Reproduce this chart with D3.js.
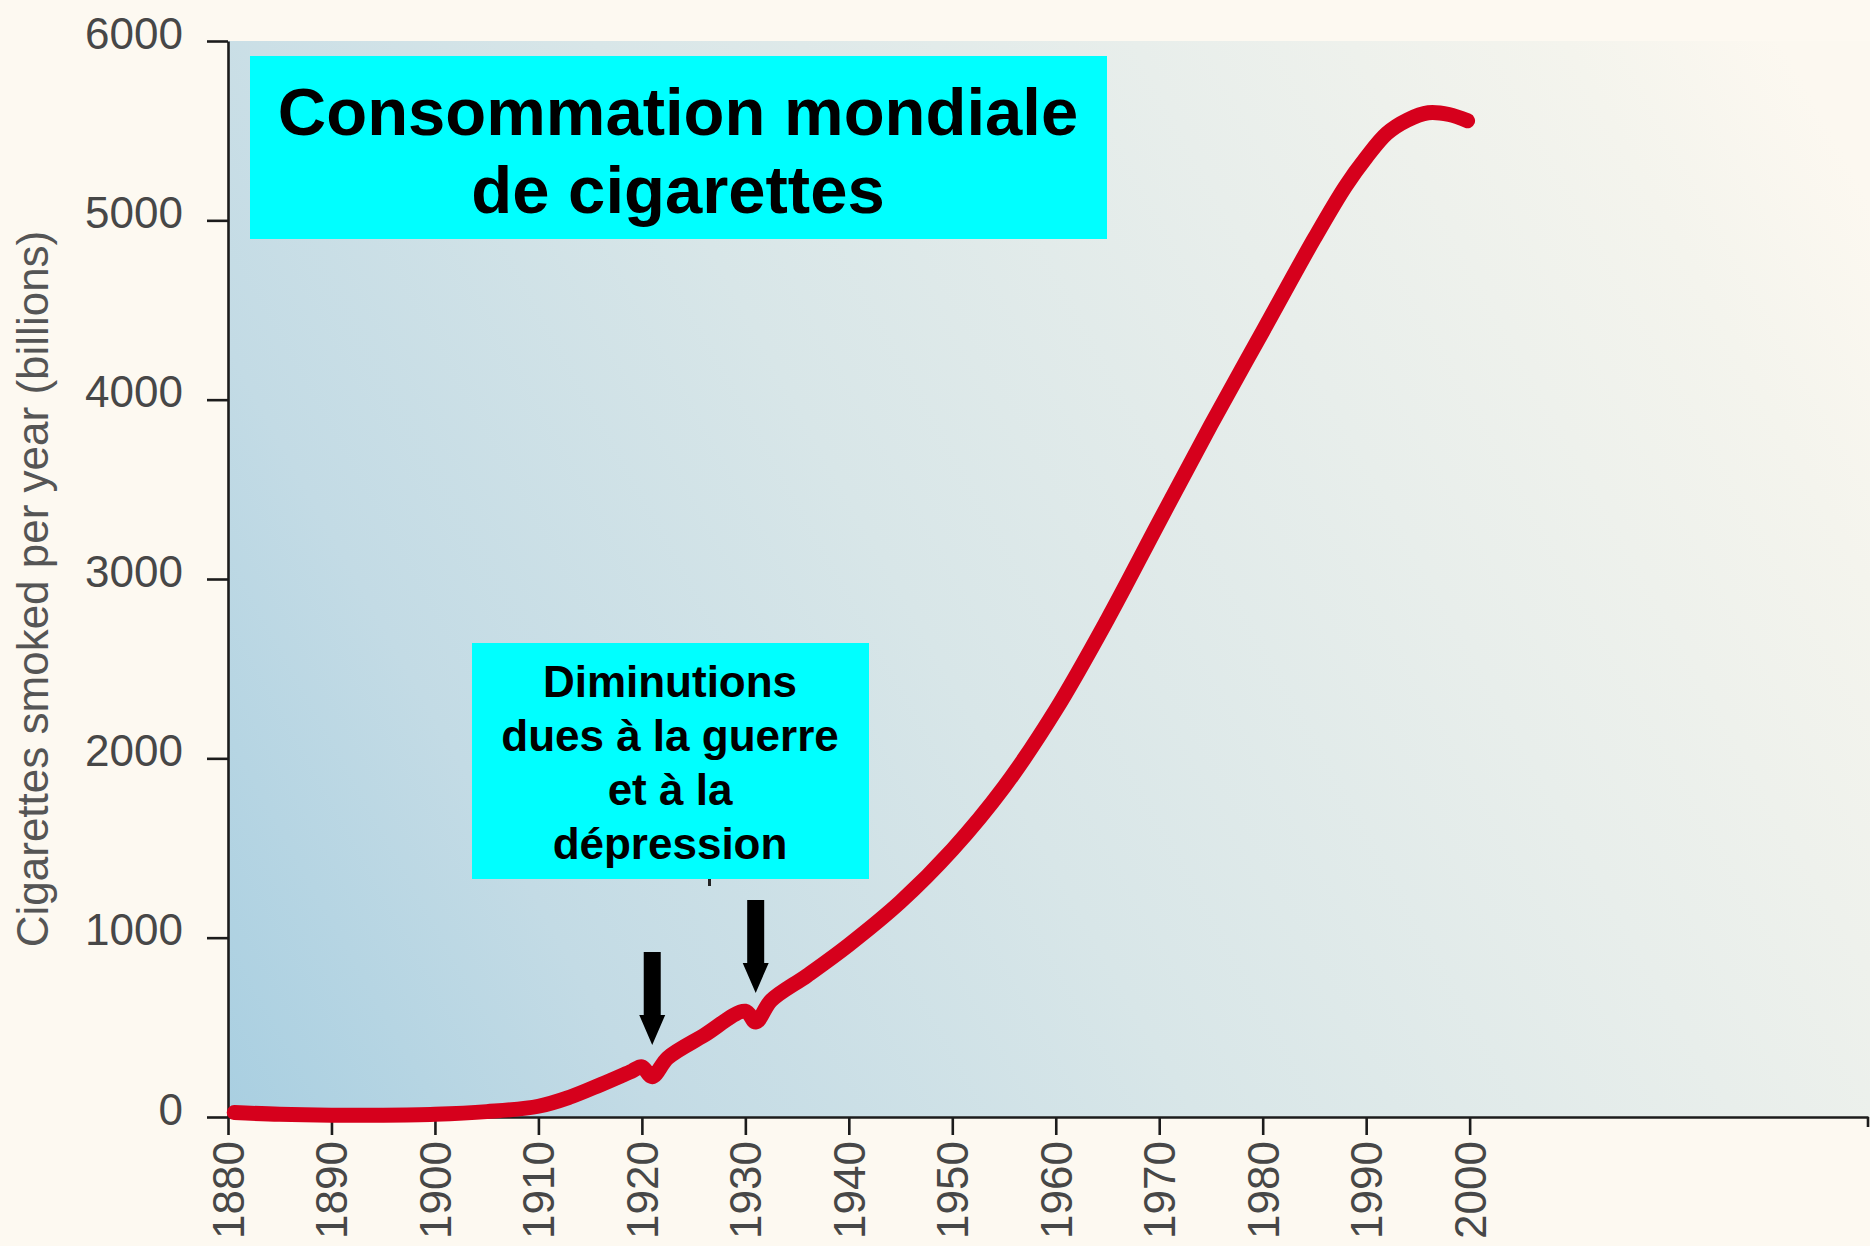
<!DOCTYPE html>
<html>
<head>
<meta charset="utf-8">
<script src="https://cdn.jsdelivr.net/npm/d3@7"></script>
<style>
  html, body { margin: 0; padding: 0; background: #fdf9f1; }
  svg { display: block; }
</style>
</head>
<body>
<div id="chart"></div>
<script>
// values (billions of cigarettes per year)
var years  = [1880.6, 1885, 1890, 1895, 1900, 1905, 1910, 1913, 1916, 1919, 1920, 1921, 1922.5, 1926, 1930, 1931, 1932.5, 1936, 1940, 1945, 1950, 1955, 1960, 1965, 1970, 1975, 1980, 1985, 1988, 1990, 1992, 1994, 1996, 1998, 1999.8];
var values = [25, 15, 10, 10, 15, 30, 60, 110, 180, 255, 280, 225, 330, 455, 590, 530, 650, 790, 960, 1200, 1490, 1840, 2270, 2775, 3320, 3860, 4380, 4900, 5190, 5350, 5485, 5560, 5600, 5590, 5555];

var yTicks = [0, 1000, 2000, 3000, 4000, 5000, 6000];
var xTicks = [1880, 1890, 1900, 1910, 1920, 1930, 1940, 1950, 1960, 1970, 1980, 1990, 2000];

// the two war / depression dips
var arrowYears = [1921, 1931];
var arrowFrom  = [920, 1210];
var arrowTo    = [402, 692];

var titleLines = ["Consommation mondiale", "de cigarettes"];
var noteLines  = ["Diminutions", "dues à la guerre", "et à la", "dépression"];
var yTitle     = "Cigarettes smoked per year (billions)";

function main() {
    var W = 1870, H = 1246;
    var left = 228, right = 1868, top = 41, bottom = 1117;
    var font = "'Liberation Sans', Arial, Helvetica, sans-serif";

    var x = d3.scaleLinear().domain([1880, 2038.5]).range([left, right]);
    var y = d3.scaleLinear().domain([0, 6000]).range([bottom, top]);

    var svg = d3.select("#chart")
      .append("svg")
      .attr("width", W)
      .attr("height", H)
      .style("background", "#fdf9f1");

    // plot background
    var grad = svg.append("defs")
      .append("linearGradient")
      .attr("id", "bg")
      .attr("gradientUnits", "userSpaceOnUse")
      .attr("x1", left).attr("y1", bottom)
      .attr("x2", W).attr("y2", 200);
    [[0, "#a9cfe1"], [0.2, "#c3dbe5"], [0.45, "#d8e6e8"], [0.7, "#e8eeeb"], [0.9, "#f4f4ed"], [1, "#fcf8f0"]]
      .forEach(function (s) {
        grad.append("stop").attr("offset", s[0]).attr("stop-color", s[1]);
      });

    svg.append("rect")
      .attr("x", left).attr("y", top)
      .attr("width", W - left).attr("height", bottom - top)
      .style("fill", "url(#bg)");

    // y axis
    var gy = svg.append("g")
      .attr("transform", "translate(" + left + ",0)")
      .call(d3.axisLeft(y).tickValues(yTicks).tickSize(21).tickSizeOuter(0).tickPadding(24).tickFormat(d3.format("d")));
    gy.selectAll("text")
      .attr("dy", null)
      .attr("y", 7)
      .style("font-family", font)
      .style("font-size", "44px")
      .style("fill", "#474747");

    // x axis
    var gx = svg.append("g")
      .attr("transform", "translate(0," + bottom + ")")
      .call(d3.axisBottom(x).tickValues(xTicks).tickSize(18).tickSizeOuter(0).tickFormat(d3.format("d")));
    gx.selectAll("text")
      .attr("dy", null)
      .attr("x", -24)
      .attr("y", 15.5)
      .attr("transform", "rotate(-90)")
      .style("text-anchor", "end")
      .style("font-family", font)
      .style("font-size", "44px")
      .style("fill", "#474747");
    gx.append("line")
      .attr("x1", right).attr("x2", right)
      .attr("y1", 0).attr("y2", 10);

    svg.selectAll(".domain, .tick line, g line")
      .style("stroke", "#1c1c1c")
      .style("stroke-width", 2.6);

    // y axis title
    svg.append("text")
      .attr("transform", "translate(48,589) rotate(-90)")
      .attr("text-anchor", "middle")
      .style("font-family", font)
      .style("font-size", "44px")
      .style("fill", "#555")
      .text(yTitle);

    // the curve
    var line = d3.line()
      .x(function (d, i) { return x(years[i]); })
      .y(function (d) { return y(d); })
      .curve(d3.curveCatmullRom.alpha(0.5));

    svg.append("path")
      .datum(values)
      .attr("d", line)
      .style("fill", "none")
      .style("stroke", "#d6001c")
      .style("stroke-width", 15)
      .style("stroke-linecap", "round")
      .style("stroke-linejoin", "round");

    // arrows
    svg.selectAll("path.arrow")
      .data(arrowYears)
      .enter()
      .append("path")
      .attr("class", "arrow")
      .attr("d", function (d, i) {
          var cx = x(d), y0 = y(arrowFrom[i]), y1 = y(arrowTo[i]);
          var hb = y1 - 30;
          return "M" + (cx - 8.5) + "," + y0 + "L" + (cx + 8.5) + "," + y0 +
                 "L" + (cx + 8.5) + "," + hb + "L" + (cx + 13) + "," + hb +
                 "L" + cx + "," + y1 + "L" + (cx - 13) + "," + hb +
                 "L" + (cx - 8.5) + "," + hb + "Z";
      })
      .style("fill", "#000");

    // title box
    svg.append("rect")
      .attr("x", 250).attr("y", 56)
      .attr("width", 857).attr("height", 183)
      .style("fill", "#00ffff");
    svg.append("g")
      .selectAll("text")
      .data(titleLines)
      .enter()
      .append("text")
      .attr("x", 678)
      .attr("y", function (d, i) { return 135 + i * 78; })
      .attr("text-anchor", "middle")
      .style("font-family", font)
      .style("font-weight", "bold")
      .style("font-size", "67px")
      .style("fill", "#000")
      .text(function (d) { return d; });

    // annotation box
    svg.append("rect")
      .attr("x", 472).attr("y", 643)
      .attr("width", 397).attr("height", 236)
      .style("fill", "#00ffff");
    svg.append("rect")
      .attr("x", 708).attr("y", 879)
      .attr("width", 3).attr("height", 7)
      .style("fill", "#222");
    svg.append("g")
      .selectAll("text")
      .data(noteLines)
      .enter()
      .append("text")
      .attr("x", 670)
      .attr("y", function (d, i) { return 697 + i * 54; })
      .attr("text-anchor", "middle")
      .style("font-family", font)
      .style("font-weight", "bold")
      .style("font-size", "44px")
      .style("fill", "#000")
      .text(function (d) { return d; });
}

main();
</script>
</body>
</html>
